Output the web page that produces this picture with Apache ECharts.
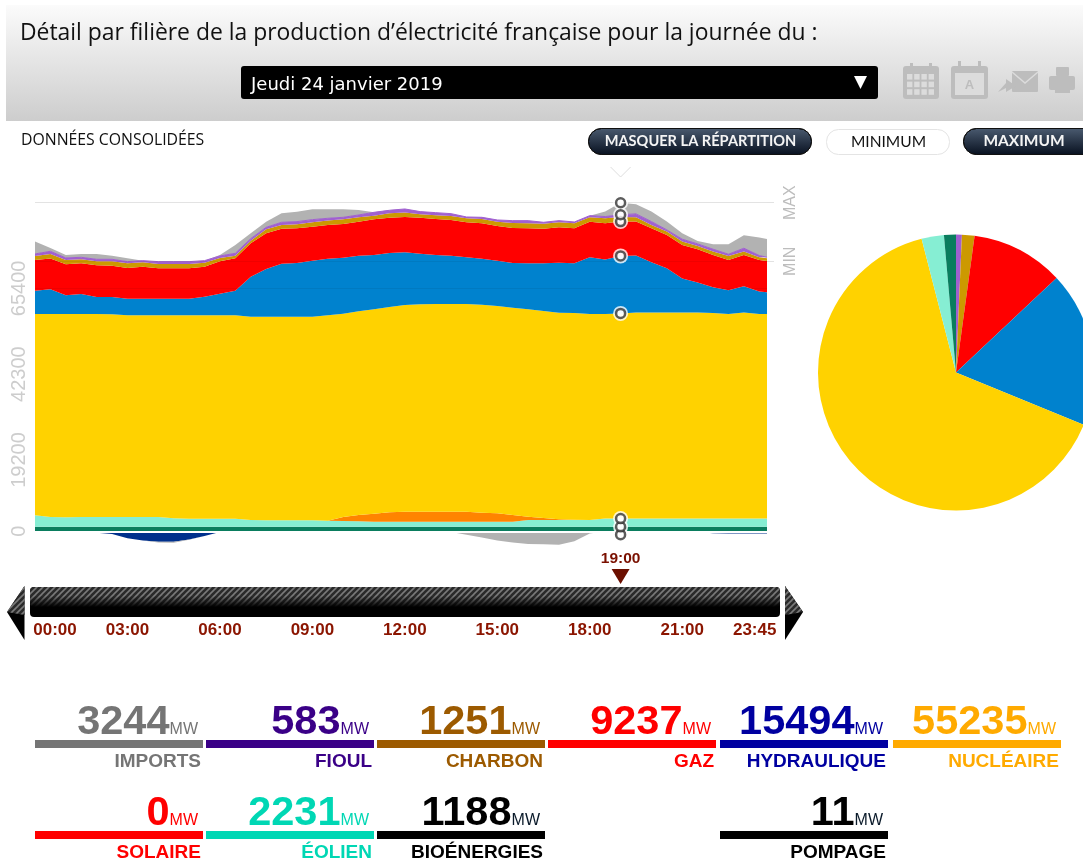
<!DOCTYPE html>
<html><head><meta charset="utf-8">
<style>html,body{margin:0;padding:0;background:#fff}#c{width:1083px;height:861px}</style>
<script src="https://cdn.jsdelivr.net/npm/echarts@6/dist/echarts.min.js"></script>
</head><body><div id="c"></div>
<script>
// quarter-hour index of each reading (0 = 00:00, 95 = 23:45)
const quarterIdx=[0,2,4,6,8,10,12,14,16,18,20,22,24,26,28,30,32,34,36,38,40,42,44,46,48,50,52,54,56,58,60,62,64,66,68,70,72,74,76,78,80,82,84,86,88,90,92,94,95];
const bio=[1190,1190,1190,1190,1190,1190,1190,1190,1190,1190,1190,1190,1190,1190,1190,1190,1190,1190,1190,1190,1190,1190,1190,1190,1190,1190,1190,1190,1190,1190,1190,1190,1190,1190,1190,1190,1190,1190,1188,1190,1190,1190,1190,1190,1190,1190,1190,1190,1190];
const wind=[3110,2660,2570,2660,2660,2660,2660,2660,2660,2300,2210,2210,2210,2210,1850,1760,1760,1760,1760,1670,1580,1490,1400,1400,1400,1400,1400,1400,1400,1400,1400,1400,1850,1850,1850,1850,1850,2231,2231,2231,2231,2231,2231,2231,2231,2231,2231,2231,2231];
const solar=[0,0,0,0,0,0,0,0,0,0,0,0,0,0,0,0,0,0,0,0,1077,1705,2154,2513,2692,2692,2692,2692,2692,2423,2244,1795,897,538,180,90,0,0,0,0,0,0,0,0,0,0,0,0,0];
const nuclear=[54210,54660,54750,54660,54660,54570,54300,54300,54300,54660,54750,54750,54750,54750,54750,54840,54840,54840,54840,55290,54750,54840,55020,55290,55650,55830,55915,55915,55915,56005,55825,55825,55826,55736,55645,55645,55466,55107,55235,55466,55466,55466,55466,55466,55376,55107,55466,55107,55107];
const hydro=[6283,6642,5026,5385,4577,4667,4488,4488,4488,4488,4488,5026,5834,6642,10770,12834,14270,14450,15078,15258,15078,14988,14629,14540,14181,13642,13193,13014,12565,12386,12206,12027,12386,12834,13463,13373,15258,14629,15494,15347,13552,11937,9155,8078,6911,6372,7090,6013,5834];
const gas=[8257,8257,8347,8257,8526,8437,8257,8616,8167,8167,8167,8078,8706,8706,8975,9603,9424,9334,9155,9065,9065,9155,9603,9514,9514,9693,9693,9603,9424,9514,9334,9424,9424,9334,9514,9424,9603,9783,9237,9155,9155,8975,9065,8975,8706,8167,8437,8526,8437];
const coal=[1077,1257,1167,1077,1077,1167,1257,1167,1167,1167,1167,1077,898,718,718,1077,987,1077,1167,1167,1257,1167,987,1167,1167,898,987,1077,1077,1167,1167,1346,1346,1346,1346,1346,1167,1346,1251,1167,898,898,898,898,898,1077,898,718,718];
const fuel=[538,718,538,538,538,538,449,449,628,628,628,538,538,628,538,538,718,718,718,628,538,628,898,808,987,718,718,628,359,449,449,628,718,359,449,359,449,449,583,898,898,449,628,538,628,449,898,449,269];
const imports=[3321,898,808,898,1436,987,898,0,90,90,90,0,269,2244,1436,1526,2423,2693,2782,2423,2154,1346,0,90,0,0,0,0,0,0,0,0,0,0,0,0,0,1346,3244,2603,2693,2244,1615,808,1346,2693,3500,4846,4936];
const pumping=[-100,-30,-270,-300,-400,-700,-1900,-2500,-2800,-2800,-2200,-1300,-200,0,0,0,0,0,0,0,0,0,0,0,0,0,0,0,0,0,0,0,0,0,0,0,0,0,-11,0,0,0,0,-200,-500,-600,-600,-600,-600];
const exportsMW=[0,0,0,0,0,0,0,0,-200,-300,-100,0,0,0,0,0,0,0,0,0,0,0,0,0,0,0,-150,-200,-900,-1700,-2500,-3000,-3400,-3500,-3600,-2700,-600,0,0,0,0,0,0,0,0,0,0,0,0];

const yTicks=[0,19200,42300,65400];
const refLines=[72700,88463];
const refNames=['MIN','MAX'];
const sliderTickPos=[2.6,12,24,36,48,60,72,84,93.4];
const sliderTickLabels=['00:00','03:00','06:00','09:00','12:00','15:00','18:00','21:00','23:45'];
const cursorIdx=76, cursorLabel='19:00', cursorRow=38;

const pieNames=['Fioul','Charbon','Gaz','Hydraulique','Nucléaire','Solaire','Éolien','Bioénergies'];
const pieValues=[583,1251,9237,15494,55235,0,2231,1188];
const pieColors=['#a060d0','#cc9900','#ff0000','#0082ce','#ffd200','#ff8400','#86eed3','#0a7d5e'];

const tileNames=['IMPORTS','FIOUL','CHARBON','GAZ','HYDRAULIQUE','NUCLÉAIRE','SOLAIRE','ÉOLIEN','BIOÉNERGIES','POMPAGE'];
const tileValues=[3244,583,1251,9237,15494,55235,0,2231,1188,11];
const tileColors=['#757575','#3a0087','#9c5a00','#ff0000','#0000a0','#ffaa00','#ff0000','#00d7b4','#000000','#000000'];

// the data x axis is a time axis: one quarter of an hour is 900000 ms
const QH=900000;
const zip=a=>quarterIdx.map((q,i)=>[q*QH,a[i]]);
const area=(name,a,color,stack,extra)=>Object.assign({name,type:'line',stack,stackStrategy:'all',data:zip(a),showSymbol:false,symbol:'none',silent:true,
  lineStyle:{width:0,color},itemStyle:{color},areaStyle:{color,opacity:1},z:2},extra||{});

const el=document.getElementById('c');
const chart=echarts.init(el,null,{width:1083,height:861});

// hatch pattern for the time slider
const pc=document.createElement('canvas');pc.width=pc.height=6;
const p=pc.getContext('2d');p.fillStyle='#2a2a2a';p.fillRect(0,0,6,6);p.strokeStyle='#7a7a7a';p.lineWidth=1.6;
[[-1,7,7,-1],[-4,4,4,-4],[2,10,10,2]].forEach(l=>{p.beginPath();p.moveTo(l[0],l[1]);p.lineTo(l[2],l[3]);p.stroke();});
const hatch={image:pc,repeat:'repeat'};

const lin=(a,b)=>new echarts.graphic.LinearGradient(0,0,0,1,[{offset:0,color:a},{offset:1,color:b}]);
const T=(text,x,y,font,fill,align,extra)=>Object.assign({type:'text',x,y,z:20,style:{text,font,fill,align:align||'left',verticalAlign:'middle'}},extra||{});
const R=(x,y,w,h,fill,r,extra)=>Object.assign({type:'rect',z:15,shape:{x,y,width:w,height:h,r:r||0},style:{fill}},extra||{});
const P=(points,fill)=>({type:'polygon',z:15,shape:{points},style:{fill}});

const gfx=[];
// header band
gfx.push(R(6,5,1077,116,lin('#fbfbfb','#cdcdcd')));
gfx.push(T('Détail par filière de la production d’électricité française pour la journée du :',20,33,'22.9px "Open Sans"','#111'));
gfx.push(R(241,66,637,33,'#000',3));
gfx.push(T('Jeudi 24 janvier 2019',251,85,'18px "DejaVu Sans"','#fff'));
gfx.push(P([[854,76],[867,76],[860.5,89]],'#fff'));
// icons
const ic='#bdbdbd',bgc='#dcdcdc';
gfx.push(R(903,66,36,33,ic,3),R(910,63,3,6,ic),R(929,63,3,6,ic));
[0,1,2,3].forEach(c=>[0,1,2].forEach(r=>gfx.push(R(907+c*7.2,74+r*7.6,5.4,5.6,bgc))));
gfx.push(R(951,66,37,33,ic,3),R(958,61,3,8,ic),R(978,61,3,8,ic),R(955,73,29,22,bgc));
gfx.push(T('A',969.5,85,'bold 13px "Liberation Sans"',ic,'center'));
gfx.push(R(1012,71,26,21,ic,1),{type:'polyline',z:16,shape:{points:[[1012,72],[1025,83],[1038,72]]},style:{stroke:bgc,fill:null,lineWidth:1.5}});
gfx.push(P([[998,92],[1006,83],[1006,79],[1016,86],[1006,92],[1006,88]],ic));
gfx.push(R(1056,67,13,9,ic,1),R(1049,76,26,14,ic,2),R(1055,86,15,7,ic));
// sub-header and buttons
gfx.push(T('DONNÉES CONSOLIDÉES',21,140,'15.8px "Open Sans"','#111'));
gfx.push(R(588.5,128.5,223,26,lin('#4b5b70','#07101f'),13,{style:{fill:lin('#4b5b70','#07101f'),stroke:'#111',lineWidth:1}}));
gfx.push(T('MASQUER LA RÉPARTITION',700.5,141,'bold 14.6px "Lato"','#f4f4f4','center'));
gfx.push(R(826.5,129.5,123,25,'#fff',12,{style:{fill:'#fff',stroke:'#e4e4e4',lineWidth:1}}));
gfx.push(T('MINIMUM',888.5,142,'15.5px "Lato"','#111','center'));
gfx.push(R(963.5,128.5,135,26,lin('#4b5b70','#07101f'),13,{style:{fill:lin('#4b5b70','#07101f'),stroke:'#111',lineWidth:1}}));
gfx.push(T('MAXIMUM',1024,141,'bold 15.5px "Lato"','#f4f4f4','center'));
// time slider
gfx.push(R(30,587,750,30,'#000',4));
gfx.push(R(30,587,750,20,hatch,4));
gfx.push(R(30,596,750,11,new echarts.graphic.LinearGradient(0,0,0,1,[{offset:0,color:'rgba(0,0,0,0)'},{offset:1,color:'rgba(0,0,0,1)'}])));
gfx.push(P([[24.5,586],[24.5,640],[7,612]],'#000'),P([[24.5,586],[24.5,615],[7,612]],hatch));
gfx.push(P([[785,586],[785,640],[803,612]],'#000'),P([[785,586],[785,615],[803,612]],hatch));
// tiles
const barL=[35,206,377,548,720,893], barW=168;
const tileCol=[0,1,2,3,4,5,0,1,2,4];
tileNames.forEach((n,i)=>{
  const row=i<6?0:1, L=barL[tileCol[i]], Rg=L+barW, dy=row*91, c=tileColors[i];
  gfx.push(R(L,740+dy,barW,8,c));
  gfx.push(T('MW',Rg-5,730+dy,'16px "Liberation Sans"',c==='#000000'?'#0a1a2a':c,'right'));
  gfx.push(T(String(tileValues[i]),Rg-33.5,722.5+dy,'bold 41.5px "Liberation Sans"',c,'right'));
  gfx.push(T(n,Rg-2,762+dy,'bold 19px "Liberation Sans"',c,'right'));
});

// cursor rings: cumulative level of each layer at the selected time, bottom one first
const layers=[bio,wind,nuclear,hydro,gas,fuel.map((v,i)=>v+coal[i]),imports];
let acc=0;const ringLevels=[[cursorIdx*QH,-900]];
layers.forEach(a=>{acc+=a[cursorRow];ringLevels.push([cursorIdx*QH,acc]);});

chart.setOption({
  animation:false,backgroundColor:'#fff',
  grid:{left:35,top:197,width:732,height:364,containLabel:false},
  xAxis:[
   {type:'time',min:0,max:95*QH,z:5,splitLine:{show:false},
    axisLine:{show:true,onZero:true,lineStyle:{color:'#fff',width:2}},axisTick:{show:false},axisLabel:{show:false}},
   {type:'value',min:0,max:95,position:'bottom',splitLine:{show:false},
    axisLine:{show:false,onZero:false},axisTick:{show:false},
    axisLabel:{show:true,customValues:sliderTickPos,margin:61,color:'#8b1500',fontWeight:'bold',fontSize:17,fontFamily:'Liberation Sans',hideOverlap:false,
      formatter:v=>sliderTickLabels[sliderTickPos.indexOf(+v)]||''}}
  ],
  yAxis:[
   {type:'value',min:-8000,max:90000,position:'left',splitLine:{show:false},axisLine:{show:false},axisTick:{show:false},
    axisLabel:{customValues:yTicks,rotate:90,margin:6,color:'#cdcdcd',fontSize:20,fontFamily:'Liberation Sans',align:'center',verticalAlign:'bottom',formatter:v=>String(v)}},
   {type:'value',min:-8000,max:90000,position:'right',splitLine:{show:false},axisLine:{show:false},
    axisTick:{show:true,customValues:refLines,length:7,lineStyle:{color:'#e2e2e2'}},
    axisLabel:{customValues:refLines,rotate:90,margin:24,color:'#bdbdbd',fontSize:16,fontFamily:'Liberation Sans',align:'center',verticalAlign:'middle',
      formatter:v=>refNames[refLines.indexOf(v)]||''}}
  ],
  series:[
    area('Bioénergies',bio,'#0a7d5e','pos'),
    area('Éolien',wind,'#86eed3','pos'),
    area('Solaire',solar,'#ff8400','pos'),
    area('Nucléaire',nuclear,'#ffd200','pos'),
    area('Hydraulique',hydro,'#0082ce','pos'),
    area('Gaz',gas,'#ff0000','pos'),
    area('Charbon',coal,'#cc9900','pos'),
    area('Fioul',fuel,'#a060d0','pos',{lineStyle:{width:1,color:'#a060d0'}}),
    area('Imports',imports,'#b2b2b2','pos',{markLine:{silent:true,symbol:'none',animation:false,label:{show:false},lineStyle:{color:'rgba(0,0,0,0.06)',type:'solid',width:1},
      data:[{yAxis:refLines[1],lineStyle:{color:'rgba(0,0,0,0.11)'}},{yAxis:refLines[0]},{yAxis:yTicks[3]}]}}),
    area('Pompage',pumping,'#00308c','neg'),
    area('Exports',exportsMW,'#b2b2b2','neg'),
    {type:'scatter',name:'halo',data:ringLevels,symbol:'circle',symbolSize:15,itemStyle:{color:'#fff'},z:8,silent:true,clip:false},
    {type:'scatter',name:'ring',data:ringLevels,symbol:'circle',symbolSize:9,itemStyle:{color:'#fff',borderColor:'#333',borderWidth:2.5},z:9,silent:true,clip:false},
    {type:'pie',name:'Répartition',center:[956,372.5],radius:[0,138],startAngle:90,clockwise:true,minAngle:0,stillShowZeroSum:false,silent:true,
      label:{show:false},labelLine:{show:false},
      data:pieNames.map((n,i)=>({name:n,value:pieValues[i],itemStyle:{color:pieColors[i]}}))}
  ],
  graphic:{elements:gfx}
});
// cursor marker follows the x scale
const cx=chart.convertToPixel({xAxisIndex:0},cursorIdx*QH);
chart.setOption({graphic:{elements:gfx.concat([
  {type:'polyline',z:15,shape:{points:[[cx-10,167],[cx,177],[cx+10,167]]},style:{stroke:'#dedede',fill:null,lineWidth:1}},
  T(cursorLabel,cx,559,'bold 15.5px "Liberation Sans"','#7a1000','center'),
  P([[cx-9,569],[cx+9,569],[cx,584]],'#6b0f00')
])}});
</script></body></html>
